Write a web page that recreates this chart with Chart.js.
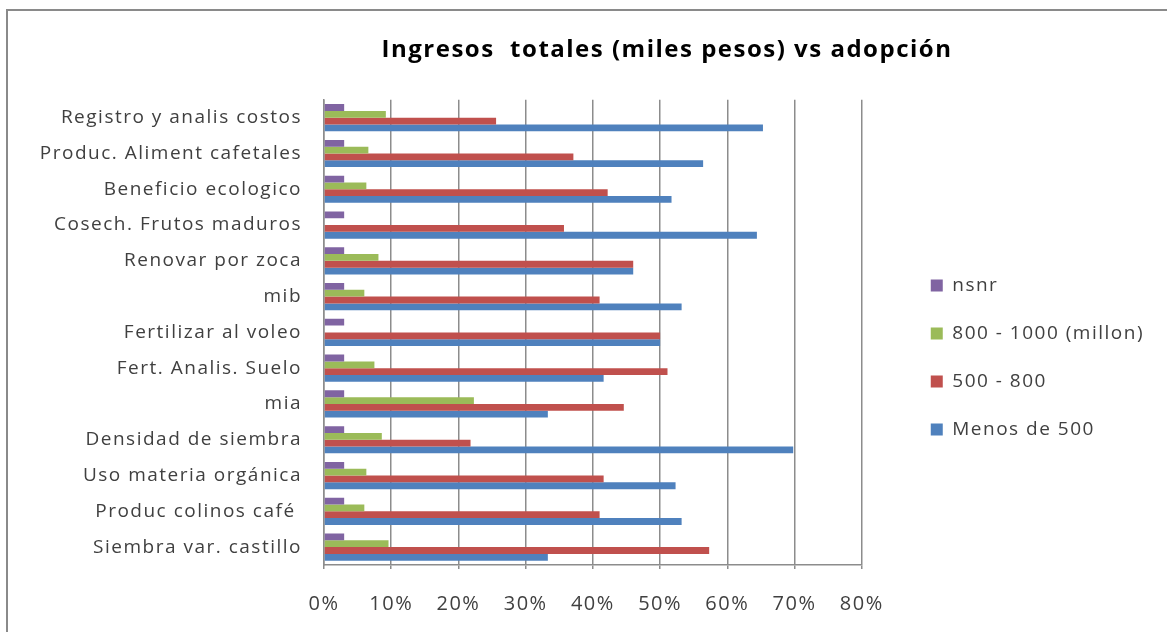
<!DOCTYPE html>
<html>
<head>
<meta charset="utf-8">
<script src="https://cdn.jsdelivr.net/npm/chart.js@4/dist/chart.umd.min.js"></script>
<style>
  html, body { margin: 0; padding: 0; background: #fff; overflow: hidden; width: 1167px; height: 632px; }
  #frame {
    position: absolute; left: 6px; top: 9px;
    width: 1322px; height: 640px;
    border-top: 2px solid #8a8a8a; border-left: 2px solid #8a8a8a;
    background: #fff;
  }
  canvas { display: block; }
</style>
</head>
<body>
<div id="frame"><canvas id="chart" width="1322" height="628"></canvas></div>
<script>
// categories, top to bottom as in the picture
const practicas = [
  'Registro y analis costos',
  'Produc. Aliment cafetales',
  'Beneficio ecologico',
  'Cosech. Frutos maduros',
  'Renovar por zoca',
  'mib',
  'Fertilizar al voleo',
  'Fert. Analis. Suelo',
  'mia',
  'Densidad de siembra',
  'Uso materia orgánica',
  'Produc colinos café ',
  'Siembra var. castillo'
]

// percent of adoption per income group
const nsnr = [3, 3, 3, 3, 3, 3, 3, 3, 3, 3, 3, 3, 3]
const de800a1000 = [9.2, 6.6, 6.3, 0, 8.1, 6.0, 0, 7.5, 22.3, 8.6, 6.3, 6.0, 9.6]
const de500a800 = [25.6, 37.1, 42.2, 35.7, 46.0, 41.0, 50.0, 51.1, 44.6, 21.8, 41.6, 41.0, 57.3]
const menosDe500 = [65.3, 56.4, 51.7, 64.4, 46.0, 53.2, 50.0, 41.6, 33.3, 69.8, 52.3, 53.2, 33.3]

const xTicks = [0, 10, 20, 30, 40, 50, 60, 70, 80]

const textColor = '#404040'
const gridColor = '#8c8c8c'

const bar = (label, data, color) => ({
    label: label,
    data: data,
    backgroundColor: color,
    borderWidth: 0,
    categoryPercentage: 0.76,
    barPercentage: 1.0
})

// excel-ish text: a bit of letter spacing, and a wide legend column on the right
const excelLook = {
    id: 'excelLook',
    beforeLayout(chart) {
        chart.ctx.letterSpacing = '1.5px'
        const lg = chart.legend
        if (lg && !lg._wide) {
            const fit = lg.fit.bind(lg)
            lg.fit = function () {
                fit()
                this.width += 212
            }
            lg._wide = true
        }
    },
    afterLayout(chart) {
        // push the legend items away from the plot
        chart.legend.left += 40
        chart.legend.right += 40
    },
    beforeDraw(chart) {
        chart.ctx.letterSpacing = '1.5px'
    }
}

const chartConfig = {
    type: 'bar',
    data: {
        labels: practicas,
        datasets: [
            bar('nsnr', nsnr, '#8064A2'),
            bar('800 - 1000 (millon)', de800a1000, '#9BBB59'),
            bar('500 - 800', de500a800, '#C0504D'),
            bar('Menos de 500', menosDe500, '#4F81BD')
        ]
    },
    options: {
        indexAxis: 'y',
        responsive: false,
        animation: false,
        layout: {
            padding: { left: 0, right: 4, top: 0, bottom: 0 }
        },
        scales: {
            x: {
                min: 0,
                max: 80,
                afterBuildTicks: scale => {
                    scale.ticks = xTicks.map(v => ({ value: v }))
                },
                ticks: {
                    callback: v => v + '%',
                    color: textColor,
                    font: { family: 'Open Sans', size: 20 },
                    padding: 23
                },
                grid: {
                    color: gridColor,
                    lineWidth: 1.5,
                    tickLength: 4
                },
                border: { color: gridColor, width: 1.5 }
            },
            y: {
                afterFit: scale => { scale.width = 316 },
                ticks: {
                    color: textColor,
                    font: { family: 'Open Sans', size: 19 },
                    padding: 22
                },
                grid: { display: false, drawTicks: false },
                border: { color: gridColor, width: 1.5 }
            }
        },
        plugins: {
            title: {
                display: true,
                text: 'Ingresos  totales (miles pesos) vs adopción',
                color: '#000',
                font: { family: 'Open Sans', size: 24, weight: 'bold' },
                padding: { top: 25, bottom: 35 }
            },
            legend: {
                position: 'right',
                title: {
                    display: true,
                    text: ' ',
                    padding: { top: 21, bottom: 21 },
                    font: { size: 19 }
                },
                labels: {
                    color: textColor,
                    font: { family: 'Open Sans', size: 19 },
                    boxWidth: 12,
                    boxHeight: 12,
                    padding: 29
                }
            },
            tooltip: { enabled: false }
        }
    },
    plugins: [excelLook]
}

window.onload = () => {
    new Chart(document.getElementById('chart'), chartConfig)
}
</script>
</body>
</html>
